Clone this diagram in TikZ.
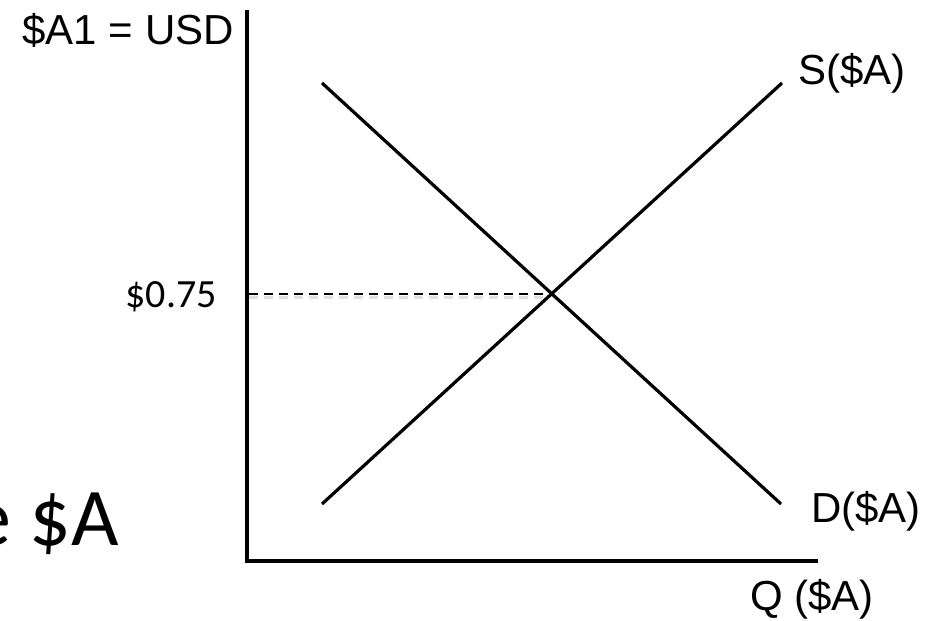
\documentclass[tikz,border=0pt]{standalone}
\usepackage{fontspec}
\setmainfont{Liberation Sans}
\newfontfamily\calib{Carlito}
\begin{document}
\begin{tikzpicture}[x=1pt,y=-1pt,
  axis/.style={line width=3.4pt},
  curve/.style={line width=3.2pt},
  lbl/.style={inner sep=0pt,font=\fontsize{42}{50}\selectfont}]
\useasboundingbox (0,0) rectangle (943,621);
\coordinate (O) at (247,561);
\coordinate (Ytop) at (247,10);
\coordinate (Xend) at (818,561);
\draw[axis] (Ytop) -- (O) -- (Xend);
\coordinate (S1) at (322,504);
\coordinate (S2) at (782,83);
\coordinate (D1) at (322,83);
\coordinate (D2) at (781,504);
\coordinate (E) at (551,293.5);
\coordinate (P) at (249,293.5);
\coordinate (Ps) at (249,297.5);
\coordinate (Es) at (548,297.5);
\draw[line width=2.5pt,black!12,dash pattern=on 9pt off 6pt] (Ps) -- (Es);
\draw[line width=2pt,dash pattern=on 9pt off 6pt] (P) -- (E);
\draw[curve] (S1) -- (S2);
\draw[curve] (D1) -- (D2);
\node[lbl,anchor=base east] (ylab) at (234,45) {\$A1 = USD};
\node[lbl,anchor=base west] (slab) at (798,84) {S(\$A)};
\node[lbl,anchor=base west] (dlab) at (811,522) {D(\$A)};
\node[lbl,anchor=base west] (qlab) at (750,610) {Q (\$A)};
\node[inner sep=0pt,anchor=base east,font=\calib\fontsize{40}{48}\selectfont] (plab) at (217,307) {\$0.75};
\node[inner sep=0pt,anchor=base east,font=\calib\fontsize{82}{96}\selectfont] (big) at (119,545) {e \$A};
\end{tikzpicture}
\end{document}
